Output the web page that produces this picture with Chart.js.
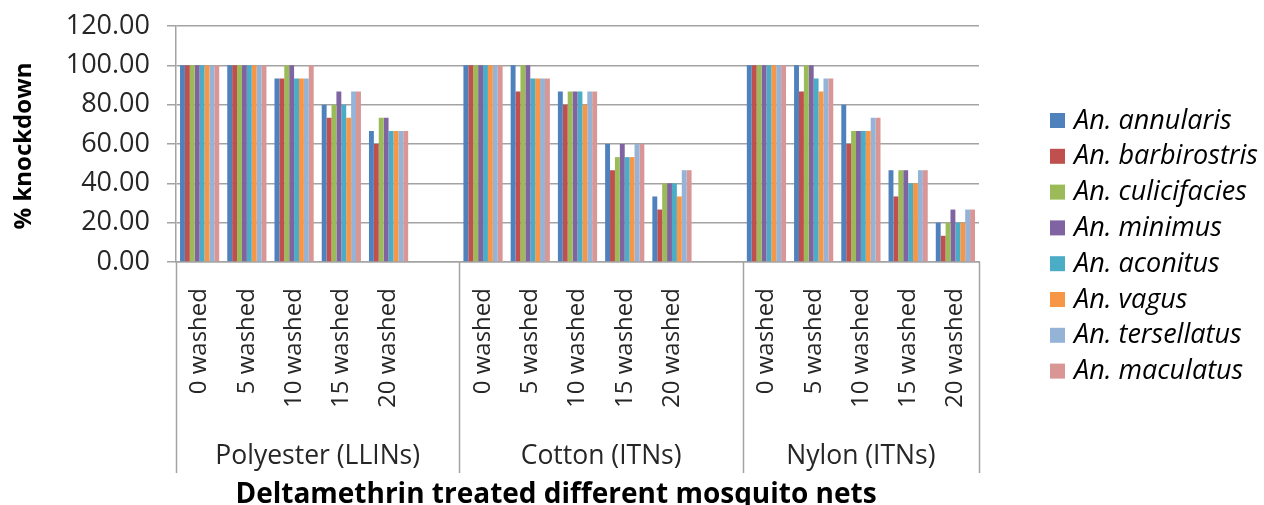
<!DOCTYPE html>
<html>
<head>
<meta charset="utf-8">
<script src="https://cdn.jsdelivr.net/npm/chart.js@4/dist/chart.umd.min.js"></script>
<style>
  html, body { margin: 0; padding: 0; background: #ffffff; }
  #wrap { width: 1264px; height: 505px; position: relative; }
</style>
</head>
<body>
<div id="wrap"><canvas id="chart" width="1264" height="505"></canvas></div>
<script>
// Net types and wash counts (each net type is followed by an empty spacer slot)
const netTypes = ['Polyester (LLINs)', 'Cotton (ITNs)', 'Nylon (ITNs)'];
const washLabels = ['0 washed', '5 washed', '10 washed', '15 washed', '20 washed'];
const yTicks = [0, 20, 40, 60, 80, 100, 120];

// % knockdown per species: Polyester x5, Cotton x5, Nylon x5
const annularis    = [100, 100, 93.33, 80, 66.67,   100, 100, 86.67, 60, 33.33,    100, 100, 80, 46.67, 20];
const barbirostris = [100, 100, 93.33, 73.33, 60,   100, 86.67, 80, 46.67, 26.67,  100, 86.67, 60, 33.33, 13.33];
const culicifacies = [100, 100, 100, 80, 73.33,     100, 100, 86.67, 53.33, 40,    100, 100, 66.67, 46.67, 20];
const minimus      = [100, 100, 100, 86.67, 73.33,  100, 100, 86.67, 60, 40,       100, 100, 66.67, 46.67, 26.67];
const aconitus     = [100, 100, 93.33, 80, 66.67,   100, 93.33, 86.67, 53.33, 40,  100, 93.33, 66.67, 40, 20];
const vagus        = [100, 100, 93.33, 73.33, 66.67,100, 93.33, 80, 53.33, 33.33,  100, 86.67, 66.67, 40, 20];
const tersellatus  = [100, 100, 93.33, 86.67, 66.67,100, 93.33, 86.67, 60, 46.67,  100, 93.33, 73.33, 46.67, 26.67];
const maculatus    = [100, 100, 100, 86.67, 66.67,  100, 93.33, 86.67, 60, 46.67,  100, 93.33, 73.33, 46.67, 26.67];

const speciesNames = ['An. annularis', 'An. barbirostris', 'An. culicifacies', 'An. minimus',
                      'An. aconitus', 'An. vagus', 'An. tersellatus', 'An. maculatus'];
const speciesValues = [annularis, barbirostris, culicifacies, minimus, aconitus, vagus, tersellatus, maculatus];
const speciesColors = ['#4F81BD', '#C0504D', '#9BBB59', '#8064A2', '#4BACC6', '#F79646', '#95B3D7', '#D99694'];

const perGroup = washLabels.length;

// Category axis: 5 wash labels per net type, with a blank slot after the first two groups
const labels = [];
netTypes.forEach((n, g) => {
  washLabels.forEach(w => labels.push(w));
  if (g < netTypes.length - 1) labels.push('');
});

function expand(vals) {
  const out = [];
  netTypes.forEach((n, g) => {
    for (let i = 0; i < perGroup; i++) out.push(vals[g * perGroup + i]);
    if (g < netTypes.length - 1) out.push(null);
  });
  return out;
}

const GRID = '#a3a3a3';
const TEXT = '#262626';
const FONT = "'Open Sans', 'Noto Sans', sans-serif";

// Group labels and separators below the category axis, axis titles and the legend
const decor = {
  id: 'decor',
  afterDraw(chart) {
    const ctx = chart.ctx;
    const area = chart.chartArea;
    const n = labels.length;
    const w = (area.right - area.left) / n;
    const bottom = 473;
    ctx.save();
    ctx.strokeStyle = GRID;
    ctx.lineWidth = 1.5;
    // group boundaries
    const edges = [area.left];
    let idx = 0;
    netTypes.forEach((name, g) => {
      const e = idx + perGroup;
      const last = g === netTypes.length - 1;
      edges.push(last ? area.right : area.left + (e + 1) * w);
      idx = e + (last ? 0 : 1);
    });
    edges.forEach(px => {
      ctx.beginPath();
      ctx.moveTo(Math.round(px) + 0.5, area.bottom);
      ctx.lineTo(Math.round(px) + 0.5, bottom);
      ctx.stroke();
    });
    // group labels
    ctx.fillStyle = TEXT;
    ctx.font = "26.5px " + FONT;
    ctx.textAlign = 'center';
    ctx.textBaseline = 'alphabetic';
    netTypes.forEach((name, g) => {
      const cx = (edges[g] + edges[g + 1]) / 2;
      ctx.fillText(name, cx, 464);
    });
    // axis titles
    ctx.fillStyle = '#000';
    ctx.font = "bold 28px " + FONT;
    ctx.fillText('Deltamethrin treated different mosquito nets', 556, 503);
    ctx.save();
    ctx.translate(24, 146);
    ctx.rotate(-Math.PI / 2);
    ctx.textBaseline = 'middle';
    ctx.font = "bold 24px " + FONT;
    ctx.fillText('% knockdown', 0, 0);
    ctx.restore();
    // legend
    ctx.font = "italic 27px " + FONT;
    ctx.textAlign = 'left';
    ctx.textBaseline = 'middle';
    chart.data.datasets.forEach((ds, i) => {
      const cy = 120 + i * 35.8;
      ctx.fillStyle = ds.backgroundColor;
      ctx.fillRect(1050, cy - 7, 15, 15);
      ctx.fillStyle = '#000';
      ctx.fillText(ds.label, 1074, cy + 1);
    });
    ctx.restore();
  }
};

new Chart(document.getElementById('chart'), {
  type: 'bar',
  data: {
    labels: labels,
    datasets: speciesNames.map((name, i) => ({
      label: name,
      data: expand(speciesValues[i]),
      backgroundColor: speciesColors[i],
      borderWidth: 0,
      categoryPercentage: 0.83,
      barPercentage: 1.0
    }))
  },
  options: {
    responsive: false,
    animation: false,
    layout: { padding: { left: 0, right: 285, top: 26, bottom: 0 } },
    plugins: { legend: { display: false }, tooltip: { enabled: false } },
    scales: {
      x: {
        afterFit(scale) {
          scale.height = 243;
          scale.paddingLeft = 0;
          scale.paddingRight = 0;
        },
        grid: { display: false, drawTicks: false },
        border: { display: true, color: GRID, width: 1.5 },
        ticks: {
          autoSkip: false,
          maxRotation: 90,
          minRotation: 90,
          padding: 26,
          color: TEXT,
          font: { family: FONT, size: 24 }
        }
      },
      y: {
        min: 0,
        max: 120,
        afterFit(scale) {
          scale.width = 176;
          scale.paddingTop = 0;
          scale.paddingBottom = 0;
        },
        afterBuildTicks(scale) { scale.ticks = yTicks.map(v => ({ value: v })); },
        grid: { color: GRID, lineWidth: 1.5, drawTicks: true, tickLength: 9, tickColor: GRID },
        border: { display: true, color: GRID, width: 1.5 },
        ticks: {
          padding: 17,
          color: TEXT,
          font: { family: FONT, size: 27 },
          callback: v => Number(v).toFixed(2)
        }
      }
    }
  },
  plugins: [decor]
});
</script>
</body>
</html>
